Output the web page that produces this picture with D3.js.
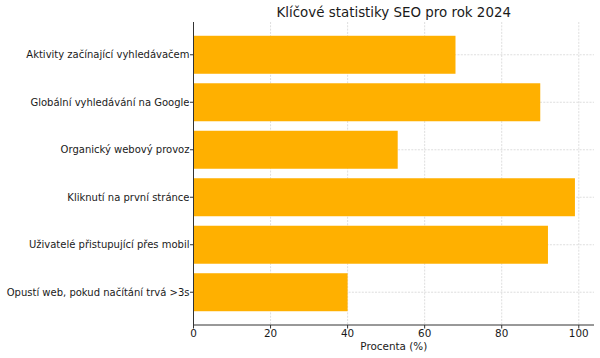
<!DOCTYPE html>
<html><head><meta charset="utf-8">
<script src="https://cdn.jsdelivr.net/npm/d3@7"></script>
<style>body{margin:0;background:#fff}svg{display:block}text{font-family:"DejaVu Sans",sans-serif;fill:#1a1a1a}</style>
</head><body><svg id="c" width="600" height="358"></svg>
<script>
const categories = ["Aktivity začínající vyhledávačem","Globální vyhledávání na Google","Organický webový provoz","Kliknutí na první stránce","Uživatelé přistupující přes mobil","Opustí web, pokud načítání trvá >3s"];
const values = [68, 90, 53, 99, 92, 40];
const xTicks = [0, 20, 40, 60, 80, 100];
const title = "Klíčové statistiky SEO pro rok 2024";
const xLabel = "Procenta (%)";

const svg = d3.select("#c");
const L = 193.5, R = 594, T = 22, B = 325;
const x = d3.scaleLinear().domain([0, d3.max(values) * 1.05]).range([L, R]);
const n = categories.length;
const y = d3.scaleLinear().domain([-0.4 - 0.29, n - 1 + 0.4 + 0.29]).range([T, B]);

const g = svg.append("g");
g.selectAll(".gx").data(xTicks).join("line")
  .attr("x1", d => x(d)).attr("x2", d => x(d)).attr("y1", T).attr("y2", B)
  .attr("stroke", "#d0d0d0").attr("stroke-width", 0.7).attr("stroke-dasharray", "2,1.3");
g.selectAll(".gy").data(categories).join("line")
  .attr("x1", L).attr("x2", R).attr("y1", (d, i) => y(i)).attr("y2", (d, i) => y(i))
  .attr("stroke", "#d0d0d0").attr("stroke-width", 0.7).attr("stroke-dasharray", "2,1.3");
g.selectAll(".bar").data(values).join("rect")
  .attr("x", x(0)).attr("y", (d, i) => y(i - 0.4))
  .attr("width", d => x(d) - x(0)).attr("height", (d, i) => y(i + 0.4) - y(i - 0.4))
  .attr("fill", "#ffb000");
g.append("line").attr("x1", L).attr("x2", L).attr("y1", T).attr("y2", B).attr("stroke", "#333").attr("stroke-width", 1);
g.append("line").attr("x1", L).attr("x2", R).attr("y1", B).attr("y2", B).attr("stroke", "#333").attr("stroke-width", 1);
g.selectAll(".xt").data(xTicks).join("line")
  .attr("x1", d => x(d)).attr("x2", d => x(d)).attr("y1", B).attr("y2", B + 3.5).attr("stroke", "#333");
g.selectAll(".xl").data(xTicks).join("text")
  .attr("x", d => x(d)).attr("y", 336.5).attr("text-anchor", "middle").attr("font-size", 10.4).text(d => d);
g.selectAll(".yt").data(categories).join("line")
  .attr("x1", L - 3.5).attr("x2", L).attr("y1", (d, i) => y(i)).attr("y2", (d, i) => y(i)).attr("stroke", "#333");
g.selectAll(".yl").data(categories).join("text")
  .attr("x", L - 4).attr("y", (d, i) => y(i)).attr("dy", "0.36em").attr("text-anchor", "end").attr("font-size", 10).text(d => d);
svg.append("text").attr("x", (L + R) / 2).attr("y", 17).attr("text-anchor", "middle").attr("font-size", 13.4).text(title);
svg.append("text").attr("x", (L + R) / 2).attr("y", 350).attr("text-anchor", "middle").attr("font-size", 10.4).text(xLabel);
</script></body></html>
